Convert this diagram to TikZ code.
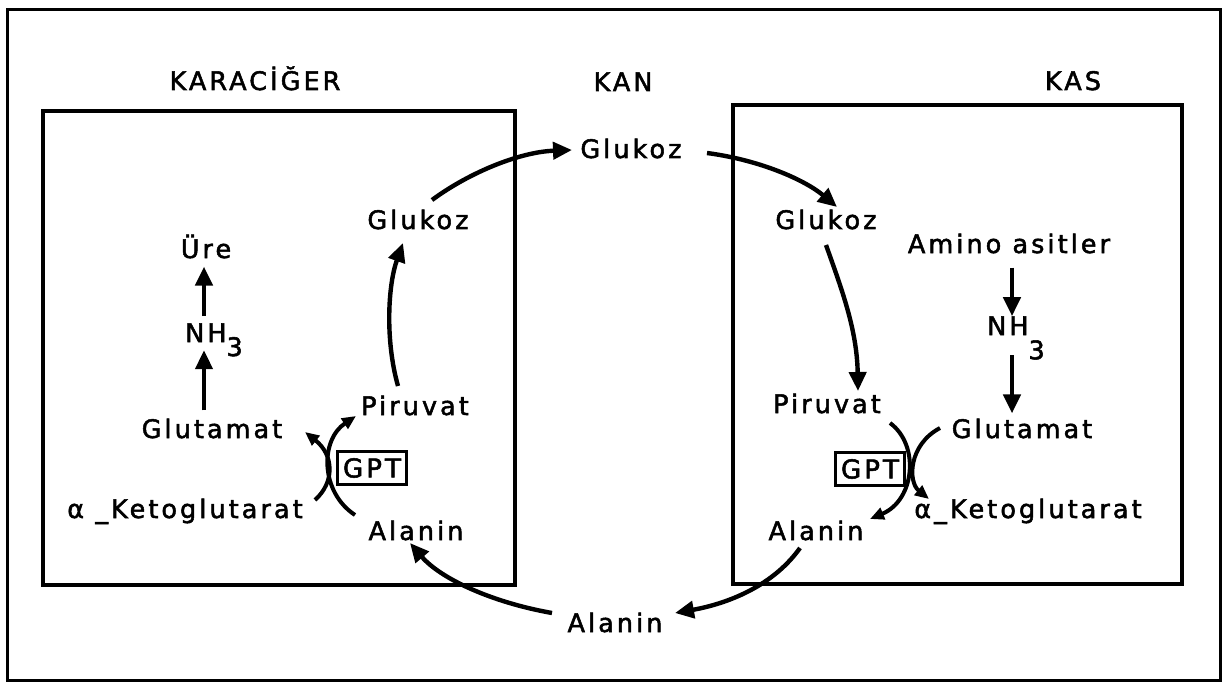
\documentclass[tikz,border=0pt]{standalone}
\usepackage{fontspec}
\setmainfont{DejaVu Sans}[LetterSpace=12,FakeBold=2]
\usetikzlibrary{arrows.meta,calc}
\begin{document}
\begin{tikzpicture}[x=1pt,y=-1pt,
  lbl/.style={font=\fontsize{25.5}{28}\selectfont, inner sep=0pt, anchor=base},
  gptbox/.style={draw, line width=2.6pt, font=\fontsize{26}{28}\selectfont, inner sep=0pt, minimum width=69pt, minimum height=33pt},
  arr/.style={line width=4.4pt, -{Triangle[length=19pt,width=17pt]}},
  sarr/.style={line width=4pt, -{Triangle[length=14pt,width=12pt]}},
  frame/.style={line width=3pt},
  cell/.style={line width=4.4pt}]
\useasboundingbox (0,0) rectangle (1227,690);
\fill[white] (0,0) rectangle (1227,690);
% frames
\draw[frame] (7,10) rectangle (1220,680);
\draw[cell] (43,111) rectangle (515,585);
\draw[cell] (733,105) rectangle (1182,584);
% headings
\node[lbl] (kar) at (255,90) {KARACİĞER};
\node[lbl] (kan) at (623,91) {KAN};
\node[lbl] (kas) at (1073,90) {KAS};
% blood
\node[lbl] (gk) at (631,158) {Glukoz};
\node[lbl] (alb) at (615,632) {Alanin};
% liver
\node[lbl] (gl) at (418,229) {Glukoz};
\node[lbl] (ure) at (206,258) {Üre};
\node[lbl] (nhl) at (214,342) {NH\raisebox{-0.55em}{3}};
\node[lbl] (glutl) at (212,438) {Glutamat};
\node[lbl] (ketol) at (185,518) {α \_Ketoglutarat};
\node[lbl] (pirl) at (415,415) {Piruvat};
\node[lbl] (all) at (416,540) {Alanin};
\node[gptbox] (gptl) at (372,468) {GPT};
% muscle
\node[lbl] (gr) at (826,229) {Glukoz};
\node[lbl] (amino) at (1009,253) {Amino asitler};
\node[lbl] (nhr) at (1016,335) {NH\raisebox{-0.95em}{3}};
\node[lbl] (glutr) at (1022,438) {Glutamat};
\node[lbl] (ketor) at (1028,518) {α\_Ketoglutarat};
\node[lbl] (pirr) at (827,413) {Piruvat};
\node[lbl] (alr) at (816,540) {Alanin};
\node[gptbox] (gptr) at (870,469) {GPT};
% arc end points
\coordinate (gls) at (432,200);
\coordinate (gke) at (572,150);
\coordinate (gks) at (707,153);
\coordinate (gre) at (837,207);
\coordinate (grs) at (826,245);
\coordinate (pirre) at (858,391);
\coordinate (pirls) at (398,386);
\coordinate (gle) at (403,243);
\coordinate (lAs) at (315,500);
\coordinate (lAe) at (305,432);
\coordinate (lBs) at (355,515);
\coordinate (lBe) at (356,416);
\coordinate (rAs) at (890,423);
\coordinate (rAe) at (870,519);
\coordinate (rBs) at (940,428);
\coordinate (rBe) at (929,499);
\coordinate (alrs) at (800,548);
\coordinate (albe) at (675,613);
\coordinate (albs) at (552,613);
\coordinate (alle) at (410,543);
% cycle
\draw[arr] (gls) .. controls (470,172) and (520,152) .. (gke);
\draw[arr] (gks) .. controls (760,160) and (805,180) .. (gre);
\draw[arr] (grs) .. controls (842,290) and (857,330) .. (pirre);
\draw[arr] (pirls) .. controls (385,340) and (388,285) .. (gle);
\draw[arr] (alrs) .. controls (770,590) and (720,605) .. (albe);
\draw[arr] (albs) .. controls (490,602) and (440,578) .. (alle);
% liver vertical
\draw[arr] ($(nhl.north)+(-10,-7)$) -- ($(ure.south)+(-2,8)$);
\draw[arr] ($(glutl.north)+(-8,-8)$) -- ($(nhl.north)+(-10,27)$);
% muscle vertical
\draw[arr] ($(amino.south)+(3,14)$) -- ($(nhr.north)+(-4,0)$);
\draw[arr] ($(nhr.north)+(-4,39)$) -- ($(glutr.north)+(-10,-5)$);
% GPT arcs
\draw[sarr] (lAs) .. controls (335,482) and (334,455) .. (lAe);
\draw[sarr] (lBs) .. controls (320,492) and (320,440) .. (lBe);
\draw[sarr] (rAs) .. controls (920,445) and (915,500) .. (rAe);
\draw[sarr] (rBs) .. controls (908,445) and (908,482) .. (rBe);
\end{tikzpicture}
\end{document}
